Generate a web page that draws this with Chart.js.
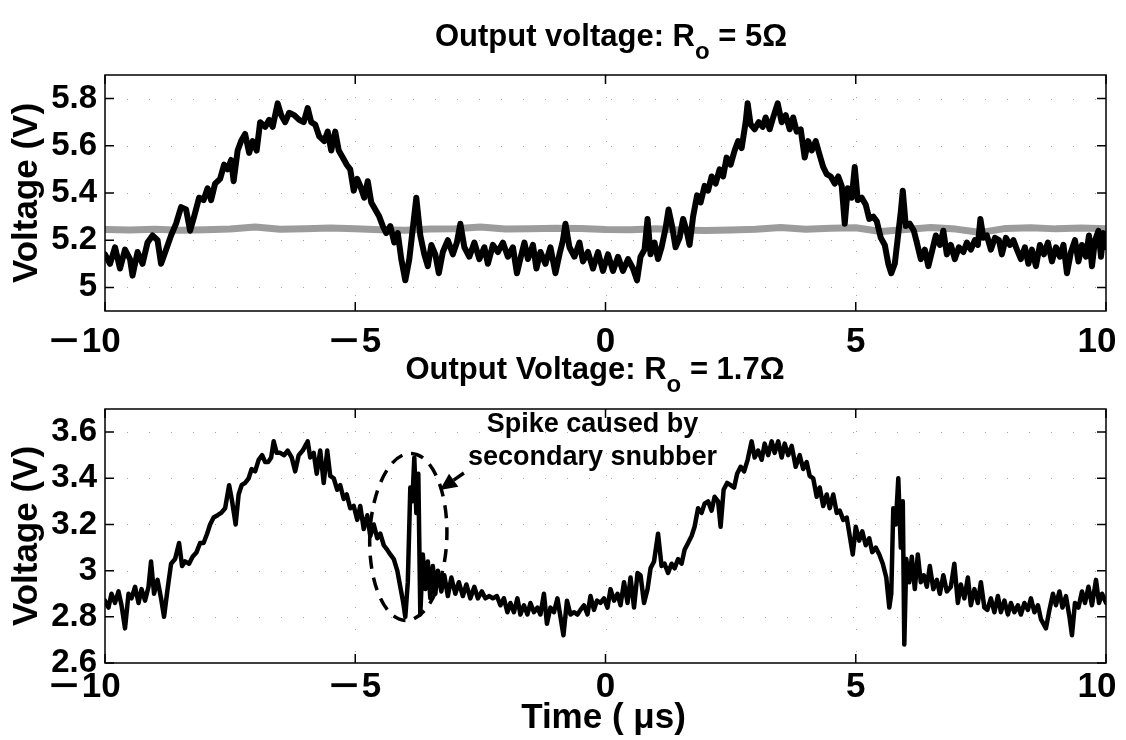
<!DOCTYPE html>
<html><head><meta charset="utf-8">
<script src="https://cdn.jsdelivr.net/npm/chart.js@4.4.0/dist/chart.umd.min.js"></script>
<style>
html,body{margin:0;padding:0;background:#fff;}
#wrap{position:relative;width:1126px;height:740px;overflow:hidden;background:#fff;}
canvas{position:absolute;left:0;}
#c1{top:0;} #c2{top:340px;}
</style></head><body>
<div id="wrap"><canvas id="c1" width="1126" height="370"></canvas><canvas id="c2" width="1126" height="400"></canvas></div>
<script>
// ---------- data ----------
const xTicks = [-10, -5, 0, 5, 10];
const topYTicks = [5, 5.2, 5.4, 5.6, 5.8];
const botYTicks = [2.6, 2.8, 3, 3.2, 3.4, 3.6];

// Output voltage, Ro = 5 ohm (black trace): [time us, volts]
const topTrace = [[-10,5.14],[-9.9,5.10],[-9.8,5.17],[-9.7,5.08],[-9.6,5.16],[-9.5,5.12],[-9.45,5.05],[-9.35,5.15],[-9.25,5.10],[-9.15,5.19],[-9.05,5.22],[-8.95,5.20],[-8.88,5.10],[-8.78,5.16],[-8.68,5.22],[-8.58,5.27],[-8.48,5.34],[-8.38,5.33],[-8.3,5.24],[-8.22,5.30],[-8.12,5.38],[-8.03,5.37],[-7.95,5.42],[-7.88,5.37],[-7.8,5.44],[-7.7,5.46],[-7.62,5.52],[-7.55,5.50],[-7.48,5.54],[-7.43,5.45],[-7.35,5.58],[-7.28,5.62],[-7.2,5.65],[-7.12,5.57],[-7.05,5.62],[-6.97,5.58],[-6.9,5.70],[-6.8,5.68],[-6.72,5.71],[-6.65,5.68],[-6.55,5.78],[-6.48,5.73],[-6.4,5.70],[-6.32,5.74],[-6.22,5.73],[-6.12,5.71],[-6.03,5.70],[-5.95,5.76],[-5.88,5.70],[-5.8,5.69],[-5.72,5.64],[-5.62,5.62],[-5.55,5.66],[-5.48,5.58],[-5.4,5.66],[-5.33,5.58],[-5.25,5.55],[-5.17,5.52],[-5.1,5.50],[-5.03,5.41],[-4.96,5.46],[-4.9,5.43],[-4.82,5.38],[-4.75,5.45],[-4.68,5.36],[-4.6,5.33],[-4.52,5.30],[-4.45,5.26],[-4.38,5.23],[-4.3,5.26],[-4.22,5.19],[-4.15,5.23],[-4.08,5.12],[-4,5.03],[-3.92,5.12],[-3.85,5.25],[-3.78,5.38],[-3.7,5.22],[-3.62,5.14],[-3.55,5.09],[-3.48,5.18],[-3.4,5.14],[-3.33,5.06],[-3.25,5.15],[-3.15,5.20],[-3.05,5.14],[-2.97,5.19],[-2.9,5.27],[-2.82,5.17],[-2.72,5.13],[-2.62,5.19],[-2.52,5.12],[-2.42,5.17],[-2.35,5.10],[-2.25,5.18],[-2.15,5.15],[-2.05,5.19],[-1.95,5.13],[-1.85,5.17],[-1.77,5.06],[-1.68,5.14],[-1.62,5.19],[-1.55,5.12],[-1.45,5.18],[-1.38,5.08],[-1.3,5.15],[-1.2,5.10],[-1.1,5.17],[-1,5.06],[-0.92,5.14],[-0.85,5.20],[-0.8,5.27],[-0.72,5.17],[-0.62,5.13],[-0.52,5.19],[-0.45,5.11],[-0.35,5.15],[-0.25,5.08],[-0.15,5.15],[-0.05,5.07],[0.05,5.14],[0.15,5.07],[0.25,5.13],[0.35,5.07],[0.45,5.12],[0.55,5.08],[0.63,5.03],[0.7,5.13],[0.78,5.16],[0.84,5.29],[0.9,5.14],[0.98,5.19],[1.05,5.12],[1.12,5.17],[1.2,5.25],[1.26,5.33],[1.33,5.26],[1.4,5.17],[1.48,5.21],[1.55,5.29],[1.62,5.24],[1.68,5.18],[1.75,5.30],[1.83,5.39],[1.9,5.36],[1.98,5.43],[2.05,5.41],[2.12,5.47],[2.2,5.44],[2.28,5.50],[2.35,5.47],[2.42,5.55],[2.5,5.52],[2.58,5.58],[2.65,5.62],[2.72,5.59],[2.8,5.70],[2.84,5.78],[2.9,5.69],[2.98,5.67],[3.06,5.70],[3.14,5.68],[3.2,5.72],[3.28,5.67],[3.35,5.72],[3.44,5.78],[3.52,5.70],[3.6,5.73],[3.68,5.67],[3.75,5.72],[3.82,5.66],[3.9,5.67],[3.98,5.55],[4.05,5.62],[4.12,5.58],[4.2,5.62],[4.28,5.56],[4.35,5.51],[4.42,5.48],[4.5,5.47],[4.58,5.44],[4.65,5.47],[4.72,5.43],[4.78,5.27],[4.84,5.42],[4.92,5.38],[4.98,5.51],[5.04,5.37],[5.12,5.38],[5.2,5.35],[5.27,5.29],[5.35,5.30],[5.42,5.28],[5.5,5.21],[5.58,5.18],[5.65,5.10],[5.71,5.06],[5.78,5.10],[5.84,5.21],[5.9,5.32],[5.94,5.41],[6,5.26],[6.08,5.27],[6.16,5.24],[6.22,5.19],[6.3,5.12],[6.38,5.16],[6.45,5.09],[6.52,5.15],[6.6,5.22],[6.68,5.18],[6.75,5.24],[6.82,5.14],[6.9,5.18],[6.98,5.12],[7.06,5.17],[7.15,5.15],[7.22,5.19],[7.3,5.16],[7.38,5.20],[7.44,5.18],[7.49,5.29],[7.55,5.21],[7.62,5.22],[7.7,5.16],[7.78,5.21],[7.86,5.20],[7.92,5.14],[8,5.21],[8.08,5.18],[8.15,5.20],[8.22,5.16],[8.3,5.12],[8.38,5.17],[8.45,5.10],[8.52,5.16],[8.6,5.09],[8.68,5.18],[8.76,5.14],[8.84,5.19],[8.92,5.11],[9,5.17],[9.08,5.13],[9.15,5.18],[9.22,5.06],[9.3,5.15],[9.38,5.20],[9.45,5.11],[9.52,5.18],[9.6,5.13],[9.66,5.22],[9.72,5.09],[9.78,5.20],[9.85,5.24],[9.9,5.13],[9.95,5.23],[10,5.17]];

// reference (gray) trace in the top plot
const grayTrace = [[-10,5.245],[-9.5,5.243],[-9,5.246],[-8.5,5.242],[-8,5.244],[-7.5,5.247],[-7,5.256],[-6.5,5.246],[-6,5.249],[-5.5,5.252],[-5,5.248],[-4.5,5.244],[-4,5.242],[-3.5,5.247],[-3,5.249],[-2.5,5.256],[-2,5.247],[-1.5,5.248],[-1,5.251],[-0.5,5.250],[0,5.245],[0.5,5.244],[1,5.249],[1.5,5.243],[2,5.241],[2.5,5.243],[3,5.246],[3.5,5.254],[4,5.246],[4.5,5.251],[5,5.253],[5.5,5.237],[6,5.245],[6.5,5.254],[7,5.247],[7.5,5.233],[8,5.250],[8.5,5.253],[9,5.248],[9.5,5.252],[10,5.249]];

// Output voltage, Ro = 1.7 ohm
const botTrace = [[-10,2.87],[-9.93,2.84],[-9.87,2.90],[-9.8,2.86],[-9.73,2.91],[-9.67,2.85],[-9.6,2.75],[-9.53,2.90],[-9.47,2.88],[-9.4,2.93],[-9.33,2.86],[-9.27,2.92],[-9.2,2.87],[-9.13,2.93],[-9.08,3.04],[-9.02,2.90],[-8.95,2.96],[-8.88,2.88],[-8.82,2.80],[-8.75,2.92],[-8.68,3.03],[-8.6,3.05],[-8.52,3.12],[-8.46,3.02],[-8.4,3.04],[-8.32,3.03],[-8.25,3.06],[-8.17,3.08],[-8.1,3.12],[-8.03,3.12],[-7.96,3.16],[-7.9,3.20],[-7.83,3.23],[-7.75,3.24],[-7.68,3.25],[-7.6,3.27],[-7.52,3.37],[-7.46,3.30],[-7.39,3.20],[-7.33,3.33],[-7.27,3.37],[-7.2,3.38],[-7.13,3.40],[-7.07,3.44],[-7,3.43],[-6.93,3.48],[-6.86,3.50],[-6.8,3.47],[-6.74,3.47],[-6.68,3.49],[-6.63,3.56],[-6.57,3.51],[-6.5,3.51],[-6.42,3.50],[-6.35,3.52],[-6.27,3.49],[-6.2,3.43],[-6.13,3.50],[-6.05,3.52],[-5.95,3.56],[-5.9,3.49],[-5.83,3.51],[-5.77,3.42],[-5.7,3.52],[-5.63,3.38],[-5.56,3.52],[-5.5,3.41],[-5.43,3.40],[-5.36,3.35],[-5.3,3.37],[-5.23,3.31],[-5.17,3.33],[-5.1,3.27],[-5.03,3.28],[-4.96,3.22],[-4.9,3.28],[-4.83,3.18],[-4.76,3.24],[-4.7,3.15],[-4.63,3.20],[-4.56,3.14],[-4.5,3.16],[-4.43,3.11],[-4.36,3.09],[-4.3,3.07],[-4.23,3.05],[-4.16,3.00],[-4.1,2.93],[-4.04,2.86],[-4,2.80],[-3.95,2.95],[-3.9,3.36],[-3.86,3.30],[-3.82,3.49],[-3.78,3.25],[-3.74,3.42],[-3.7,2.81],[-3.65,3.07],[-3.6,2.92],[-3.55,3.04],[-3.5,2.88],[-3.45,3.02],[-3.4,2.90],[-3.35,3.00],[-3.28,2.91],[-3.22,2.98],[-3.15,2.89],[-3.08,2.97],[-3,2.90],[-2.93,2.95],[-2.85,2.89],[-2.78,2.94],[-2.7,2.88],[-2.62,2.93],[-2.55,2.88],[-2.47,2.91],[-2.4,2.88],[-2.32,2.89],[-2.25,2.88],[-2.17,2.89],[-2.1,2.85],[-2.03,2.88],[-1.96,2.82],[-1.9,2.86],[-1.83,2.82],[-1.76,2.88],[-1.7,2.81],[-1.63,2.85],[-1.56,2.81],[-1.5,2.86],[-1.43,2.82],[-1.36,2.84],[-1.3,2.81],[-1.23,2.90],[-1.17,2.77],[-1.1,2.84],[-1.03,2.82],[-0.96,2.88],[-0.9,2.80],[-0.84,2.72],[-0.77,2.87],[-0.7,2.81],[-0.63,2.82],[-0.56,2.81],[-0.5,2.83],[-0.43,2.85],[-0.36,2.81],[-0.3,2.89],[-0.23,2.83],[-0.17,2.87],[-0.1,2.86],[-0.03,2.88],[0.04,2.84],[0.1,2.92],[0.17,2.87],[0.24,2.90],[0.3,2.85],[0.37,2.95],[0.44,2.86],[0.5,2.97],[0.57,2.84],[0.64,2.99],[0.7,2.98],[0.77,2.86],[0.84,2.92],[0.9,3.01],[0.97,3.04],[1.05,3.16],[1.12,3.02],[1.18,3.03],[1.25,2.99],[1.32,3.03],[1.38,3.01],[1.45,3.05],[1.52,3.03],[1.58,3.09],[1.65,3.12],[1.72,3.15],[1.78,3.19],[1.85,3.27],[1.92,3.25],[1.98,3.29],[2.05,3.30],[2.12,3.26],[2.18,3.32],[2.25,3.30],[2.3,3.19],[2.36,3.35],[2.43,3.38],[2.5,3.37],[2.57,3.36],[2.63,3.42],[2.7,3.45],[2.77,3.43],[2.84,3.48],[2.92,3.56],[2.98,3.49],[3.05,3.52],[3.12,3.48],[3.18,3.55],[3.25,3.50],[3.32,3.56],[3.38,3.51],[3.45,3.56],[3.52,3.49],[3.58,3.55],[3.65,3.50],[3.72,3.54],[3.8,3.45],[3.88,3.50],[3.95,3.44],[4.02,3.47],[4.08,3.41],[4.15,3.40],[4.22,3.32],[4.28,3.36],[4.35,3.28],[4.42,3.33],[4.48,3.27],[4.55,3.33],[4.62,3.25],[4.68,3.26],[4.75,3.22],[4.82,3.23],[4.88,3.15],[4.94,3.07],[5,3.19],[5.07,3.13],[5.13,3.17],[5.2,3.11],[5.27,3.14],[5.33,3.08],[5.4,3.10],[5.47,3.07],[5.54,3.03],[5.61,2.97],[5.67,2.84],[5.71,2.90],[5.75,3.27],[5.8,3.20],[5.85,3.40],[5.9,3.10],[5.94,3.30],[5.97,2.68],[6.01,3.05],[6.07,2.95],[6.12,3.06],[6.18,2.92],[6.24,3.07],[6.3,2.95],[6.36,2.98],[6.42,2.93],[6.48,3.02],[6.55,2.92],[6.62,2.96],[6.68,2.90],[6.75,2.98],[6.82,2.91],[6.9,2.93],[6.97,3.03],[7.04,2.86],[7.1,2.94],[7.17,2.88],[7.24,2.97],[7.3,2.85],[7.37,2.92],[7.44,2.86],[7.5,2.95],[7.57,2.84],[7.63,2.83],[7.7,2.88],[7.77,2.82],[7.84,2.89],[7.9,2.82],[7.97,2.87],[8.04,2.81],[8.1,2.86],[8.17,2.82],[8.24,2.85],[8.3,2.81],[8.37,2.86],[8.44,2.83],[8.5,2.88],[8.57,2.82],[8.64,2.85],[8.7,2.79],[8.8,2.75],[8.87,2.83],[8.94,2.90],[9,2.85],[9.07,2.91],[9.13,2.84],[9.2,2.89],[9.27,2.80],[9.32,2.72],[9.38,2.86],[9.45,2.84],[9.52,2.91],[9.58,2.86],[9.65,2.93],[9.72,2.85],[9.8,2.96],[9.86,2.86],[9.92,2.90],[10,2.86]];

// ---------- texts & annotation (in data units) ----------
const topTitle = ['Output voltage: R', 'o', ' = 5\u03A9'];
const botTitle = ['Output Voltage: R', 'o', ' = 1.7\u03A9'];
const yLabel = 'Voltage (V)';
const xLabel = ['Time ( ', '\u03BC', 's)'];
const spikeNote = { cx: -3.94, cy: 3.146, rx: 0.77, ry: 0.362, rot: 0.035,
  tail: [-2.83, 3.423], tip: [-3.31, 3.349],
  lines: ['Spike caused by', 'secondary snubber'], textX: -0.26, textY: [3.631, 3.488] };

// ---------- styles ----------
const FONT = '"Liberation Sans", Arial, Helvetica, sans-serif';
const Y_TICK_FONT = { family: FONT, size: 33, weight: 'bold' };
const X_TICK_SIZE = 35;
const X_TICK_SHIFT = [-20, 0, 0, 0, -9];   // end labels pulled inward as in the figure
const fmtTick = v => (v < 0 ? '\u2212' + Math.abs(v) : String(v));
const toXY = arr => arr.map(p => ({ x: p[0], y: p[1] }));

function drawSubTitle(ctx, parts, cx, base, size) {
  const main = `bold ${size}px ${FONT}`, sub = `bold ${Math.round(size * 0.78)}px ${FONT}`;
  ctx.font = main; const w1 = ctx.measureText(parts[0]).width;
  ctx.font = sub; const w2 = ctx.measureText(parts[1]).width;
  ctx.font = main; const w3 = ctx.measureText(parts[2]).width;
  let x = cx - (w1 + w2 + w3) / 2;
  ctx.textAlign = 'left'; ctx.textBaseline = 'alphabetic'; ctx.fillStyle = '#000';
  ctx.fillText(parts[0], x, base); x += w1;
  ctx.font = sub; ctx.fillText(parts[1], x, base + size * 0.42); x += w2;
  ctx.font = main; ctx.fillText(parts[2], x, base);
}

// x tick label with a long minus sign
function drawXTickLabel(ctx, v, cx, base) {
  const f = `bold ${X_TICK_SIZE}px ${FONT}`;
  ctx.font = f; ctx.fillStyle = '#000'; ctx.textBaseline = 'alphabetic'; ctx.textAlign = 'left';
  const digits = String(Math.abs(v));
  const wd = ctx.measureText(digits).width;
  if (v < 0) {
    const MS = 1.45, wm = ctx.measureText('\u2212').width * MS, gap = 3;
    let x = cx - (wm + gap + wd) / 2;
    ctx.save(); ctx.translate(x, base); ctx.scale(MS, 1); ctx.fillText('\u2212', 0, 0); ctx.restore();
    ctx.fillText(digits, x + wm + gap, base);
  } else {
    ctx.fillText(digits, cx - wd / 2, base);
  }
}

function boxPlugin(cfg) {
  return {
    id: 'box' + cfg.key,
    beforeDatasetsDraw(chart) {
      const { ctx, chartArea: a, scales: { x, y } } = chart;
      ctx.save();
      ctx.strokeStyle = 'rgba(0,0,0,0.35)'; ctx.lineWidth = 1; ctx.setLineDash([1, 21]);
      xTicks.forEach(v => {
        if (v === xTicks[0] || v === xTicks[xTicks.length - 1]) return;
        const px = Math.round(x.getPixelForValue(v)) + 0.5;
        ctx.beginPath(); ctx.moveTo(px, a.top); ctx.lineTo(px, a.bottom); ctx.stroke();
      });
      cfg.yTicks.forEach(v => {
        const py = Math.round(y.getPixelForValue(v)) + 0.5;
        if (py <= a.top + 1 || py >= a.bottom - 1) return;
        ctx.beginPath(); ctx.moveTo(a.left, py); ctx.lineTo(a.right, py); ctx.stroke();
      });
      ctx.restore();
    },
    afterDraw(chart) {
      const { ctx, chartArea: a, scales: { x, y } } = chart;
      ctx.save();
      ctx.setLineDash([]);
      ctx.strokeStyle = '#000'; ctx.lineWidth = 1.5;
      ctx.strokeRect(a.left, a.top, a.right - a.left, a.bottom - a.top);
      const TL = 9;
      ctx.beginPath();
      xTicks.forEach(v => {
        const px = x.getPixelForValue(v);
        ctx.moveTo(px, a.bottom); ctx.lineTo(px, a.bottom - TL);
        ctx.moveTo(px, a.top); ctx.lineTo(px, a.top + TL);
      });
      cfg.yTicks.forEach(v => {
        const py = y.getPixelForValue(v);
        ctx.moveTo(a.left, py); ctx.lineTo(a.left + TL, py);
        ctx.moveTo(a.right, py); ctx.lineTo(a.right - TL, py);
      });
      ctx.stroke();
      // x tick labels, placed through the x scale
      xTicks.forEach((v, i) => drawXTickLabel(ctx, v, x.getPixelForValue(v) + X_TICK_SHIFT[i], a.bottom + cfg.xTickGap));
      // title
      drawSubTitle(ctx, cfg.title, cfg.titleX, cfg.titleBase, 31);
      // y label
      ctx.save();
      ctx.translate(27, (a.top + a.bottom) / 2);
      ctx.rotate(-Math.PI / 2);
      ctx.font = `bold 35px ${FONT}`; ctx.textAlign = 'center'; ctx.textBaseline = 'middle';
      ctx.fillStyle = '#000';
      ctx.fillText(yLabel, 0, 0);
      ctx.restore();
      if (cfg.extra) cfg.extra(chart);
      ctx.restore();
    }
  };
}

function drawBottomExtras(chart) {
  const { ctx, scales: { x, y } } = chart;
  // x label
  ctx.font = `bold 35px ${FONT}`; ctx.fillStyle = '#000';
  ctx.textBaseline = 'alphabetic'; ctx.textAlign = 'left';
  const w = xLabel.map(s => ctx.measureText(s).width);
  let lx = x.getPixelForValue(0) - 2 - (w[0] + w[1] + w[2]) / 2; const lb = 388;
  xLabel.forEach((s, i) => { ctx.fillText(s, lx, lb); lx += w[i]; });
  // ellipse
  const n = spikeNote;
  const cx = x.getPixelForValue(n.cx), cy = y.getPixelForValue(n.cy);
  const rx = x.getPixelForValue(n.cx + n.rx) - cx, ry = cy - y.getPixelForValue(n.cy + n.ry);
  ctx.save();
  ctx.strokeStyle = '#000'; ctx.lineWidth = 3.5; ctx.setLineDash([13, 9]); ctx.lineCap = 'butt';
  ctx.beginPath(); ctx.ellipse(cx, cy, rx, ry, n.rot, -Math.PI / 2, 1.5 * Math.PI); ctx.stroke();
  ctx.restore();
  // arrow
  const tx = x.getPixelForValue(n.tail[0]), ty = y.getPixelForValue(n.tail[1]);
  const hx = x.getPixelForValue(n.tip[0]), hy = y.getPixelForValue(n.tip[1]);
  const ang = Math.atan2(hy - ty, hx - tx), HL = 17, HW = 8;
  const bx = hx - HL * Math.cos(ang), by = hy - HL * Math.sin(ang);
  ctx.save();
  ctx.strokeStyle = '#000'; ctx.lineWidth = 3.5; ctx.setLineDash([]);
  ctx.beginPath(); ctx.moveTo(tx, ty); ctx.lineTo(bx, by); ctx.stroke();
  ctx.fillStyle = '#000'; ctx.beginPath();
  ctx.moveTo(hx, hy);
  ctx.lineTo(bx + HW * Math.sin(ang), by - HW * Math.cos(ang));
  ctx.lineTo(bx - HW * Math.sin(ang), by + HW * Math.cos(ang));
  ctx.closePath(); ctx.fill();
  ctx.restore();
  // note text
  ctx.font = `bold 27px ${FONT}`; ctx.fillStyle = '#000';
  ctx.textAlign = 'center'; ctx.textBaseline = 'middle';
  n.lines.forEach((s, i) => ctx.fillText(s, x.getPixelForValue(n.textX), y.getPixelForValue(n.textY[i])));
}

function makeChart(id, cfg) {
  return new Chart(document.getElementById(id), {
    type: 'line',
    data: { datasets: cfg.datasets },
    options: {
      responsive: false, animation: false, devicePixelRatio: 1,
      layout: { autoPadding: false, padding: { top: cfg.padTop, left: 0, right: 20, bottom: 0 } },
      plugins: { legend: { display: false }, tooltip: { enabled: false }, title: { display: false } },
      elements: { point: { radius: 0 }, line: { tension: 0, borderJoinStyle: 'round', borderCapStyle: 'round' } },
      scales: {
        x: {
          type: 'linear', min: -10, max: 10,
          grid: { display: false, drawTicks: false }, border: { display: false },
          afterBuildTicks: s => { s.ticks = xTicks.map(v => ({ value: v })); },
          afterFit: s => { s.height = cfg.xHeight; s.paddingLeft = 0; s.paddingRight = 0; },
          ticks: { display: false }
        },
        y: {
          type: 'linear', min: cfg.ymin, max: cfg.ymax,
          grid: { display: false, drawTicks: false }, border: { display: false },
          afterBuildTicks: s => { s.ticks = cfg.yTicks.map(v => ({ value: v })); },
          afterFit: s => { s.width = 105; s.paddingTop = 0; s.paddingBottom = 0; },
          ticks: { font: Y_TICK_FONT, color: '#000', padding: 8, autoSkip: false, callback: v => fmtTick(v) }
        }
      }
    },
    plugins: [boxPlugin(cfg)]
  });
}

makeChart('c1', {
  key: 'top', padTop: 75, xHeight: 59, xTickGap: 41, ymin: 4.9, ymax: 5.9, yTicks: topYTicks,
  title: topTitle, titleX: 611, titleBase: 46,
  datasets: [
    { data: toXY(topTrace), borderColor: '#000', borderWidth: 6 },
    { data: toXY(grayTrace), borderColor: '#9c9c9c', borderWidth: 7 }
  ]
});
makeChart('c2', {
  key: 'bot', padTop: 69, xHeight: 77, xTickGap: 34, ymin: 2.6, ymax: 3.7, yTicks: botYTicks,
  title: botTitle, titleX: 595, titleBase: 39, extra: drawBottomExtras,
  datasets: [
    { data: toXY(botTrace), borderColor: '#000', borderWidth: 4.5 }
  ]
});
</script>
</body></html>
